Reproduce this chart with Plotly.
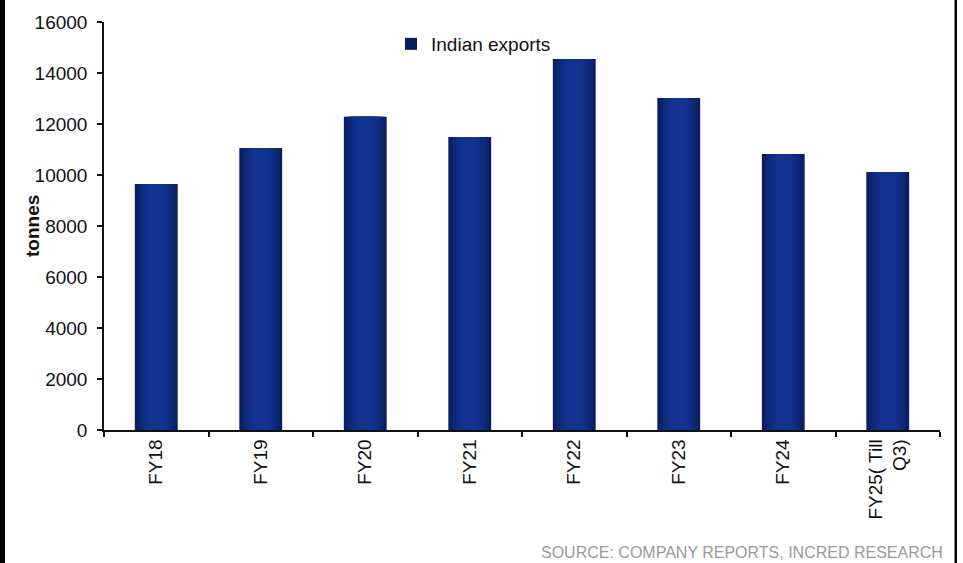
import plotly.graph_objects as go

# Indian exports by fiscal year (tonnes)
categories = ["FY18", "FY19", "FY20", "FY21", "FY22", "FY23", "FY24", "FY25( Till<br>Q3)"]
exports = [9650, 11060, 12280, 11490, 14550, 13020, 10820, 10120]

series_name = "Indian exports"
y_title = "tonnes"
y_ticks = [0, 2000, 4000, 6000, 8000, 10000, 12000, 14000, 16000]
y_tick_text = [str(v) for v in y_ticks]

FONT = "Liberation Sans, Arial, sans-serif"

fig = go.Figure()

# Shaded column: stacked overlay of narrowing bars, dark edges to lighter centre
shade_widths = [0.41, 0.37, 0.33, 0.29, 0.25, 0.20, 0.14]
shade_colors = ["#0a1d5c", "#0c2268", "#0d2773", "#0e2a7d", "#0f2d85", "#10308b", "#11328f"]
for i, (w, c) in enumerate(zip(shade_widths, shade_colors)):
    fig.add_trace(go.Bar(
        x=categories, y=exports, width=w,
        marker=dict(color=c, line=dict(width=0)),
        name=series_name, showlegend=(i == 0),
        hovertemplate="%{x}: %{y}<extra></extra>",
    ))

L, R, T, B = 104, 23, 22, 133
W, H = 963, 563
pw = W - L - R
ph = H - T - B

fig.update_layout(
    width=W, height=H,
    margin=dict(l=L, r=R, t=T, b=B),
    paper_bgcolor="white", plot_bgcolor="white",
    barmode="overlay",
    font=dict(family=FONT, size=19, color="#111111"),
    showlegend=True,
    legend=dict(
        x=(391 - L) / pw, y=1 + (T - 25) / ph,
        xanchor="left", yanchor="top",
        bgcolor="rgba(0,0,0,0)", borderwidth=0,
        font=dict(family=FONT, size=19, color="#111111"),
        itemwidth=30,
    ),
    xaxis=dict(
        type="category", tickson="boundaries",
        ticks="outside", ticklen=5, tickwidth=1.5, tickcolor="#111111",
        showline=True, linecolor="#111111", linewidth=1.5,
        showgrid=False, tickangle=-90,
        tickfont=dict(family=FONT, size=19, color="#111111"),
        range=[-0.5, len(categories) - 0.5],
    ),
    yaxis=dict(
        range=[0, 16000], tickvals=y_ticks, ticktext=y_tick_text,
        ticks="outside", ticklen=5, tickwidth=1.5, tickcolor="#111111",
        ticklabelstandoff=6,
        showline=True, linecolor="#111111", linewidth=1.5,
        showgrid=False, zeroline=False,
        tickfont=dict(family=FONT, size=19, color="#111111"),
    ),
)

# Y-axis title, set close in against the tick labels
fig.add_annotation(
    text="<b>" + y_title + "</b>",
    xref="paper", yref="paper",
    x=(32 - L) / pw, y=0.5, textangle=-90,
    xanchor="center", yanchor="middle", showarrow=False,
    font=dict(family=FONT, size=19, color="#111111"),
)

# Source note
fig.add_annotation(
    text="SOURCE: COMPANY REPORTS, INCRED RESEARCH",
    xref="paper", yref="paper",
    x=(945 - L) / pw, y=-(552 - (H - B)) / ph,
    xanchor="right", yanchor="middle", showarrow=False,
    font=dict(family=FONT, size=16, color="#9a9a9a"),
)

# Frame edges: dark strip at left, thin rule at right
fig.add_shape(type="rect", xref="paper", yref="paper",
              x0=-L / pw, x1=(5 - L) / pw, y0=-B / ph, y1=1 + T / ph,
              fillcolor="black", line=dict(width=0), layer="above")
fig.add_shape(type="rect", xref="paper", yref="paper",
              x0=(954.5 - L) / pw, x1=(957 - L) / pw, y0=-B / ph, y1=1 + T / ph,
              fillcolor="black", line=dict(width=0), layer="above")

fig.write_html("out.html")
